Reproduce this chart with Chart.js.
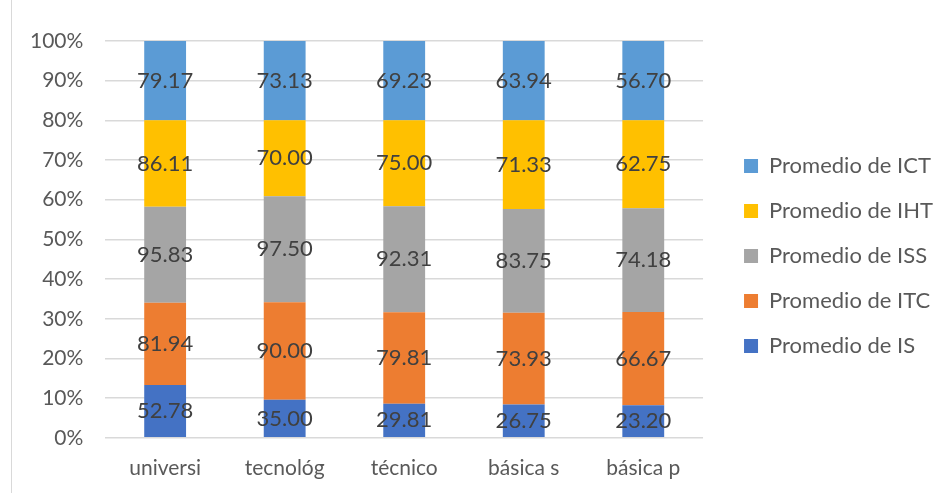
<!DOCTYPE html>
<html>
<head>
<meta charset="utf-8">
<script src="https://cdn.jsdelivr.net/npm/chart.js@4"></script>
<style>
    html, body { margin: 0; padding: 0; background: #fff; }
    #wrap { position: relative; width: 943px; height: 493px; }
    #frame { position: absolute; left: 11px; top: 0; width: 1px; height: 493px; background: #d9d9d9; }
    canvas { position: absolute; left: 0; top: 0; }
</style>
</head>
<body>
<div id="wrap">
    <div id="frame"></div>
    <canvas id="chart" width="943" height="493"></canvas>
</div>
<script>
// Data
const categories = ['universi', 'tecnológ', 'técnico', 'básica s', 'básica p'];
const seriesNames = ['Promedio de IS', 'Promedio de ITC', 'Promedio de ISS', 'Promedio de IHT', 'Promedio de ICT'];
const isValues = [52.78, 35.00, 29.81, 26.75, 23.20];
const itcValues = [81.94, 90.00, 79.81, 73.93, 66.67];
const issValues = [95.83, 97.50, 92.31, 83.75, 74.18];
const ihtValues = [86.11, 70.00, 75.00, 71.33, 62.75];
const ictValues = [79.17, 73.13, 69.23, 63.94, 56.70];
const yTicks = [0, 10, 20, 30, 40, 50, 60, 70, 80, 90, 100];

const seriesColors = ['#4472c4', '#ed7d31', '#a5a5a5', '#ffc000', '#5b9bd5'];
const allValues = [isValues, itcValues, issValues, ihtValues, ictValues];
const fontFamily = 'Lato, "Open Sans", sans-serif';
const legendShiftX = 18; // extra space between plot and legend
const legendShiftY = -14;

// 100% stacking: each column share of its category total
const totals = categories.map((_, i) => allValues.reduce((sum, arr) => sum + arr[i], 0));

const datasets = allValues.map((arr, k) => ({
    label: seriesNames[k],
    data: arr.map((v, i) => v / totals[i] * 100),
    raw: arr,
    backgroundColor: seriesColors[k],
    borderWidth: 0,
    categoryPercentage: 1,
    barPercentage: 0.35
}));

// draws the raw values in the middle of each segment
const valueLabels = {
    id: 'valueLabels',
    afterLayout(chart) {
        // nudge the legend block to where it sits in the original
        chart.legend.left += legendShiftX;
        chart.legend.right += legendShiftX;
        chart.legend.top += legendShiftY;
        chart.legend.bottom += legendShiftY;
    },
    afterDatasetsDraw(chart) {
        const ctx = chart.ctx;
        ctx.save();
        ctx.font = '22px ' + fontFamily;
        ctx.fillStyle = '#404040';
        ctx.textAlign = 'center';
        ctx.textBaseline = 'middle';
        chart.data.datasets.forEach((ds, k) => {
            chart.getDatasetMeta(k).data.forEach((bar, i) => {
                const mid = (bar.y + bar.base) / 2;
                ctx.fillText(ds.raw[i].toFixed(2), bar.x, mid);
            });
        });
        ctx.restore();
    }
};

new Chart(document.getElementById('chart'), {
    type: 'bar',
    data: { labels: categories, datasets },
    plugins: [valueLabels],
    options: {
        responsive: false,
        animation: false,
        layout: { padding: { left: 8, right: 18, top: 41, bottom: -6 } },
        plugins: {
            tooltip: { enabled: false },
            legend: {
                position: 'right',
                reverse: true,
                labels: {
                    boxWidth: 14,
                    boxHeight: 14,
                    padding: 23,
                    color: '#595959',
                    font: { family: fontFamily, size: 22 }
                }
            }
        },
        scales: {
            x: {
                stacked: true,
                grid: { display: false, drawTicks: false },
                border: { display: false },
                ticks: { color: '#595959', padding: 18, font: { family: fontFamily, size: 21 } }
            },
            y: {
                stacked: true,
                min: 0,
                max: 100,
                afterBuildTicks: (scale) => { scale.ticks = yTicks.map(v => ({ value: v })); },
                grid: { color: '#d9d9d9', lineWidth: 1.5, drawTicks: false },
                border: { display: false },
                ticks: {
                    color: '#595959',
                    padding: 22,
                    font: { family: fontFamily, size: 21 },
                    callback: (v) => v + '%'
                }
            }
        }
    }
});
</script>
</body>
</html>
